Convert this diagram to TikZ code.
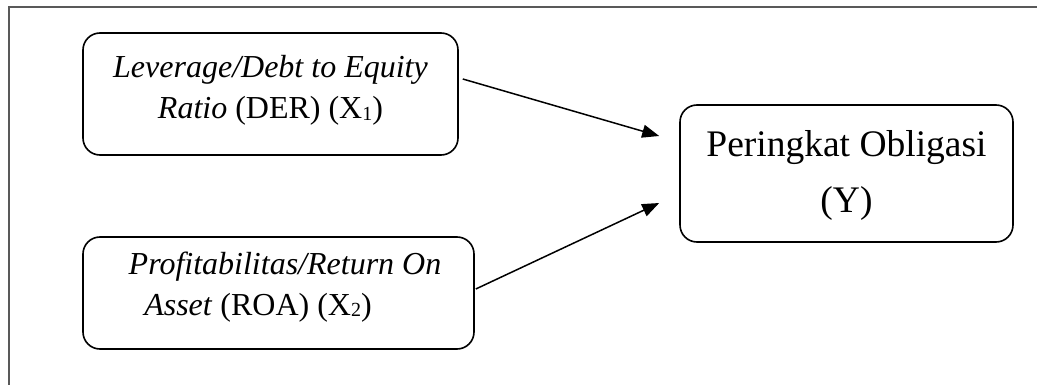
\documentclass[tikz,border=0pt]{standalone}
\usepackage{fontspec}
\setmainfont{Liberation Serif}
\usetikzlibrary{arrows.meta}
\newcommand{\subidx}[1]{\raisebox{-1.5pt}{\fontsize{20}{20}\selectfont #1}}
\begin{document}
\begin{tikzpicture}[x=1pt,y=-1pt,
  box/.style={draw=black, line width=1.6pt, rounded corners=17pt, align=center, inner sep=0pt},
  smalltext/.style={font=\fontsize{32}{41}\selectfont},
  bigtext/.style={font=\fontsize{37.5}{56}\selectfont},
  conn/.style={line width=1.5pt, -{Triangle[length=17pt,width=13pt]}},
  frame/.style={draw=black!65, line width=1.6pt}]
\useasboundingbox (0,0) rectangle (1037,385);
\coordinate (ftr) at (1037,7);
\coordinate (ftl) at (9,7);
\coordinate (fbl) at (9,385);
\draw[frame] (ftr) -- (ftl) -- (fbl);
\node[box, smalltext, minimum width=375pt, minimum height=122pt, text height=60pt, text depth=10pt] (b1) at (270.5,94)
  {\textit{Leverage/Debt to Equity}\\ \textit{Ratio} (DER) (X\subidx{1})};
\node[box, smalltext, minimum width=391pt, minimum height=112pt, text height=54pt, text depth=10pt] (b2) at (278.5,293)
  {\hspace*{13pt}\textit{Profitabilitas/Return On}\\ \textit{Asset} (ROA) (X\subidx{2})\hspace*{41pt}};
\node[box, bigtext, minimum width=333pt, minimum height=137pt, text height=89pt, text depth=10pt] (b3) at (846.5,173.5)
  {Peringkat Obligasi\\ (Y)};
\coordinate (s1) at ([shift={(4,-15)}]b1.east);
\coordinate (t1) at ([shift={(-20,-37.5)}]b3.west);
\coordinate (s2) at ([shift={(1,-4)}]b2.east);
\coordinate (t2) at ([shift={(-20,29.5)}]b3.west);
\draw[conn] (s1) -- (t1);
\draw[conn] (s2) -- (t2);
\end{tikzpicture}
\end{document}
